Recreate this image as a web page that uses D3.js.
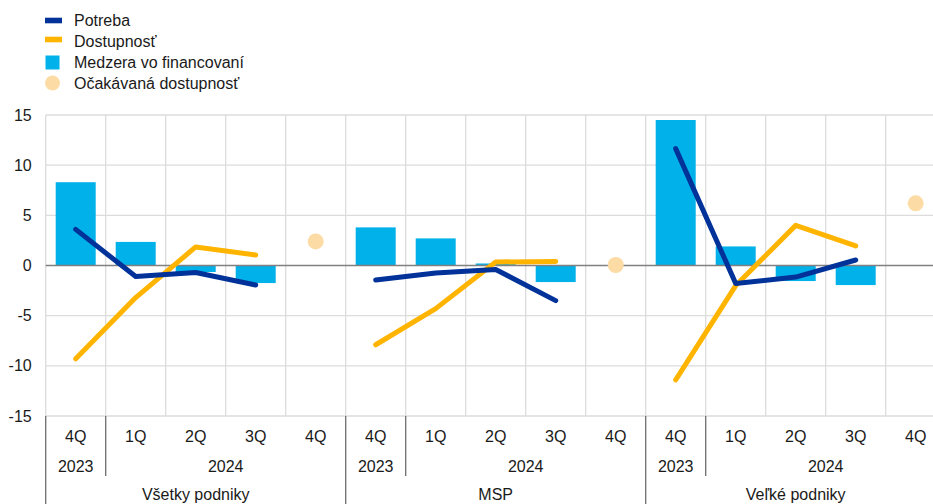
<!DOCTYPE html>
<html>
<head>
<meta charset="utf-8">
<script src="https://cdn.jsdelivr.net/npm/d3@7"></script>
<style>
  body { margin: 0; background: #fff; }
  svg { display: block; font-family: "Liberation Sans", Arial, sans-serif; }
</style>
</head>
<body>
<svg id="chart" width="933" height="504"></svg>
<script>
// ---- Data ----
const groups = ["Všetky podniky", "MSP", "Veľké podniky"];
const quarters = ["4Q", "1Q", "2Q", "3Q", "4Q"];
const years = ["2023", "2024"];
// per group: 4Q2023, 1Q2024, 2Q2024, 3Q2024
const potreba = [
  [3.6, -1.1, -0.7, -1.95],
  [-1.45, -0.75, -0.4, -3.5],
  [11.65, -1.8, -1.15, 0.55]
];
const dostupnost = [
  [-9.3, -3.2, 1.85, 1.05],
  [-7.9, -4.3, 0.35, 0.4],
  [-11.4, -2.0, 4.0, 1.95]
];
const medzera = [
  [8.3, 2.35, -0.65, -1.75],
  [3.8, 2.7, 0.2, -1.65],
  [14.5, 1.9, -1.55, -1.95]
];
const ocakavana = [2.4, 0.05, 6.2]; // at 4Q2024
const yTicks = [15, 10, 5, 0, -5, -10, -15];
const legendItems = ["Potreba", "Dostupnosť", "Medzera vo financovaní", "Očakávaná dostupnosť"];

// ---- Styles ----
const C = { blue: "#003299", yellow: "#ffb400", light: "#00b1ea", peach: "#fddba4",
            grid: "#dcdcdc", zero: "#808080", sep: "#6e6e6e", text: "#1a1a1a" };
const FS = 16;

const svg = d3.select("#chart");
const left = 45.7, bandW = 60, nCat = groups.length * quarters.length;
const plotTop = 115, plotBottom = 416;

const cats = d3.range(nCat);
const x = d3.scaleBand().domain(cats).range([left, left + bandW * nCat]).paddingInner(0).paddingOuter(0);
const y = d3.scaleLinear().domain([-15, 15]).range([plotBottom, plotTop]);
const cx = i => x(i) + x.bandwidth() / 2;
const idx = (g, q) => g * quarters.length + q;

// horizontal grid
svg.append("g").selectAll("line").data(yTicks.filter(d => d !== 0)).join("line")
  .attr("x1", left).attr("x2", 933).attr("y1", d => y(d)).attr("y2", d => y(d))
  .attr("stroke", C.grid).attr("stroke-width", 1.3);
// vertical grid
svg.append("g").selectAll("line").data(d3.range(nCat + 1)).join("line")
  .attr("x1", d => left + d * bandW).attr("x2", d => left + d * bandW)
  .attr("y1", plotTop).attr("y2", plotBottom)
  .attr("stroke", C.grid).attr("stroke-width", 1.3);

// y axis labels
const yAxis = d3.axisLeft(y).tickValues(yTicks).tickFormat(d => String(d)).tickSize(0).tickPadding(14);
const ya = svg.append("g").attr("transform", `translate(${left},0)`).call(yAxis);
ya.select(".domain").remove();
ya.selectAll("text").attr("font-size", FS).attr("fill", C.text)
  .attr("font-family", "'Liberation Sans', Arial, sans-serif");

// bars
const barData = [];
medzera.forEach((arr, g) => arr.forEach((v, q) => barData.push({ i: idx(g, q), v })));
const barW = 40;
svg.append("g").selectAll("rect").data(barData).join("rect")
  .attr("x", d => cx(d.i) - barW / 2).attr("width", barW)
  .attr("y", d => y(Math.max(0, d.v))).attr("height", d => Math.abs(y(d.v) - y(0)))
  .attr("fill", C.light);

// zero line
svg.append("line").attr("x1", left).attr("x2", 933).attr("y1", y(0)).attr("y2", y(0))
  .attr("stroke", C.zero).attr("stroke-width", 1.5);

// lines
const line = d3.line().x(d => cx(d.i)).y(d => y(d.v));
function drawLines(data, color) {
  data.forEach((arr, g) => {
    const pts = arr.map((v, q) => ({ i: idx(g, q), v }));
    svg.append("path").datum(pts).attr("d", line)
      .attr("fill", "none").attr("stroke", color).attr("stroke-width", 5)
      .attr("stroke-linecap", "round").attr("stroke-linejoin", "round");
  });
}
drawLines(dostupnost, C.yellow);
drawLines(potreba, C.blue);

// expected dots
svg.append("g").selectAll("circle").data(ocakavana).join("circle")
  .attr("cx", (d, g) => cx(idx(g, 4))).attr("cy", d => y(d)).attr("r", 8)
  .attr("fill", C.peach);

// x axis: categories
const xa = svg.append("g").attr("font-size", FS).attr("fill", C.text);
cats.forEach(i => {
  xa.append("text").attr("x", cx(i)).attr("y", 436.5).attr("text-anchor", "middle")
    .attr("dominant-baseline", "central").text(quarters[i % quarters.length]);
});
groups.forEach((gname, g) => {
  const g0 = left + g * quarters.length * bandW;
  xa.append("text").attr("x", cx(idx(g, 0))).attr("y", 466).attr("text-anchor", "middle")
    .attr("dominant-baseline", "central").text(years[0]);
  xa.append("text").attr("x", (x(idx(g, 1)) + x(idx(g, 4)) + bandW) / 2).attr("y", 466)
    .attr("text-anchor", "middle").attr("dominant-baseline", "central").text(years[1]);
  xa.append("text").attr("x", g0 + quarters.length * bandW / 2).attr("y", 494)
    .attr("text-anchor", "middle").attr("dominant-baseline", "central").text(gname);
  svg.append("line").attr("x1", g0).attr("x2", g0).attr("y1", plotBottom).attr("y2", 504)
    .attr("stroke", C.sep).attr("stroke-width", 1.3);
  const ys = x(idx(g, 1));
  svg.append("line").attr("x1", ys).attr("x2", ys).attr("y1", plotBottom).attr("y2", 476)
    .attr("stroke", C.sep).attr("stroke-width", 1.3);
});

// legend
const lg = svg.append("g");
legendItems.forEach((name, k) => {
  const yy = 20.5 + 21 * k;
  if (k === 0 || k === 1) {
    lg.append("rect").attr("x", 45).attr("y", yy - 2.8 - (k === 1 ? 2 : 0)).attr("width", 17).attr("height", 5.6)
      .attr("fill", k === 0 ? C.blue : C.yellow);
  } else if (k === 2) {
    lg.append("rect").attr("x", 45.5).attr("y", yy - 7).attr("width", 14).attr("height", 14).attr("fill", C.light);
  } else {
    lg.append("circle").attr("cx", 52.5).attr("cy", yy - 0.5).attr("r", 7.5).attr("fill", C.peach);
  }
  lg.append("text").attr("x", 74).attr("y", yy).attr("dominant-baseline", "central")
    .attr("font-size", FS).attr("fill", C.text).text(name);
});
</script>
</body>
</html>
